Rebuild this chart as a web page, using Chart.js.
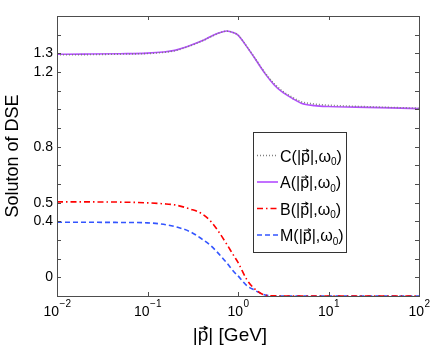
<!DOCTYPE html>
<html lang="en">
<head>
  <meta charset="UTF-8" />
  <title>Solution of DSE</title>
  <script src="https://cdn.jsdelivr.net/npm/chart.js"></script>
  <style>
    html, body { margin: 0; padding: 0; background: #ffffff; }
    #wrap { width: 436px; height: 352px; position: relative; }
  </style>
</head>
<body>
<div id="wrap"><canvas id="dseChart" width="436" height="352"></canvas></div>

<script>
  // momentum |p| in GeV
  const momentum = [0.01, 0.02, 0.05, 0.1, 0.15, 0.2, 0.3, 0.4, 0.5, 0.6, 0.75, 0.9, 1.0,
                    1.25, 1.5, 2, 2.5, 3, 4, 5, 7, 10, 20, 50, 100];

  const cValues = [1.292, 1.293, 1.296, 1.299, 1.305, 1.314, 1.341, 1.366, 1.389, 1.406, 1.419, 1.410, 1.398,
                   1.337, 1.282, 1.194, 1.138, 1.103, 1.064, 1.041, 1.028, 1.022, 1.016, 1.010, 1.006];
  const aValues = [1.295, 1.296, 1.298, 1.301, 1.307, 1.316, 1.343, 1.367, 1.390, 1.407, 1.420, 1.410, 1.398,
                   1.336, 1.280, 1.190, 1.132, 1.097, 1.058, 1.033, 1.020, 1.015, 1.012, 1.008, 1.004];
  const bValues = [0.504, 0.504, 0.503, 0.499, 0.494, 0.488, 0.465, 0.440, 0.400, 0.350, 0.278, 0.215, 0.180,
                   0.088, 0.042, 0.004, 0.001, 0, 0, 0, 0, 0, 0, 0, 0];
  const mValues = [0.395, 0.395, 0.394, 0.392, 0.384, 0.372, 0.343, 0.305, 0.270, 0.231, 0.178, 0.130, 0.108,
                   0.056, 0.033, 0.005, 0.001, 0, 0, 0, 0, 0, 0, 0, 0];

  const xTickValues = [0.01, 0.1, 1, 10, 100];
  const xTickExponents = ['−2', '−1', '0', '1', '2'];
  const yTickValues = [0.1, 0.2, 0.3, 0.4, 0.5, 0.6, 0.7, 0.8, 0.9, 1.0, 1.1, 1.2, 1.3, 1.4];
  const yTickLabels = ['0', '', '', '0.4', '0.5', '', '', '0.8', '', '', '', '1.2', '1.3', ''];

  // legend names: letter before "(|p|,ω0)"
  const seriesNames = ['C', 'A', 'B', 'M'];

  const FONT = '"Liberation Sans", Arial, Helvetica, sans-serif';
  const AXIS_COLOR = '#4d4d4d';

  function toPoints(ys) {
    return momentum.map((p, i) => ({ x: p, y: ys[i] }));
  }

  // small vector arrow over a glyph of width w starting at x
  function vecArrow(ctx, x, w, y, size) {
    const x0 = x + w * 0.15, x1 = x + w * 0.9;
    ctx.save();
    ctx.strokeStyle = '#000000';
    ctx.lineWidth = Math.max(1, size / 16);
    ctx.beginPath();
    ctx.moveTo(x0, y); ctx.lineTo(x1, y);
    ctx.moveTo(x1 - size * 0.18, y - size * 0.1); ctx.lineTo(x1, y); ctx.lineTo(x1 - size * 0.18, y + size * 0.1);
    ctx.stroke();
    ctx.restore();
  }

  // draws "prefix p suffix" with an arrow over the p, returns the x after it
  function textWithVec(ctx, prefix, suffix, x, y, size) {
    ctx.font = size + 'px ' + FONT;
    ctx.fillText(prefix, x, y);
    x += ctx.measureText(prefix).width;
    const pw = ctx.measureText('p').width;
    ctx.fillText('p', x, y);
    vecArrow(ctx, x, pw, y - size * 0.68, size);
    x += pw;
    ctx.fillText(suffix, x, y);
    return x + ctx.measureText(suffix).width;
  }

  const framePlugin = {
    id: 'frame',
    afterDraw(chart) {
      const ctx = chart.ctx;
      const a = chart.chartArea;
      const xs = chart.scales.x, ys = chart.scales.y;
      const tl = 4;
      ctx.save();

      // box + inward ticks
      ctx.strokeStyle = AXIS_COLOR;
      ctx.lineWidth = 1;
      ctx.strokeRect(Math.round(a.left) + 0.5, Math.round(a.top) + 0.5,
                     Math.round(a.right - a.left), Math.round(a.bottom - a.top));
      ctx.beginPath();
      xTickValues.forEach(v => {
        const px = Math.round(xs.getPixelForValue(v)) + 0.5;
        ctx.moveTo(px, a.bottom); ctx.lineTo(px, a.bottom - tl);
        ctx.moveTo(px, a.top); ctx.lineTo(px, a.top + tl);
      });
      yTickValues.forEach(v => {
        const py = Math.round(ys.getPixelForValue(v)) + 0.5;
        ctx.moveTo(a.left, py); ctx.lineTo(a.left + tl, py);
        ctx.moveTo(a.right, py); ctx.lineTo(a.right - tl, py);
      });
      ctx.stroke();

      // x tick labels as 10 with a raised exponent
      ctx.fillStyle = '#000000';
      ctx.textBaseline = 'alphabetic';
      xTickValues.forEach((v, i) => {
        const px = xs.getPixelForValue(v);
        ctx.font = '14px ' + FONT;
        const wb = ctx.measureText('10').width;
        ctx.font = '10px ' + FONT;
        const we = ctx.measureText(xTickExponents[i]).width;
        const x0 = px - (wb + we) / 2;
        ctx.font = '14px ' + FONT;
        ctx.fillText('10', x0, 316);
        ctx.font = '10px ' + FONT;
        ctx.fillText(xTickExponents[i], x0 + wb + 0.5, 307);
      });

      // x axis title
      ctx.font = '19px ' + FONT;
      const titleW = ctx.measureText('|p| [GeV]').width;
      textWithVec(ctx, '|', '| [GeV]', 230 - titleW / 2, 341, 19);

      // legend
      const bx = 253.5, by = 132.5, bw = 93, bh = 120;
      ctx.fillStyle = '#ffffff';
      ctx.fillRect(bx, by, bw, bh);
      ctx.strokeStyle = '#333333';
      ctx.lineWidth = 1;
      ctx.strokeRect(bx, by, bw, bh);
      chart.data.datasets.forEach((ds, i) => {
        const ly = by + 23 + i * 26.5;
        ctx.strokeStyle = ds.borderColor;
        ctx.lineWidth = ds.borderWidth;
        ctx.setLineDash(ds.borderDash || []);
        ctx.beginPath();
        ctx.moveTo(bx + 3.5, ly);
        ctx.lineTo(bx + 24.5, ly);
        ctx.stroke();
        ctx.setLineDash([]);
        ctx.fillStyle = '#000000';
        let tx = textWithVec(ctx, ds.label + '(|', '|,ω', bx + 26.5, ly + 6, 16);
        ctx.font = '10px ' + FONT;
        ctx.fillText('0', tx, ly + 9.5);
        tx += ctx.measureText('0').width;
        ctx.font = '16px ' + FONT;
        ctx.fillText(')', tx, ly + 6);
      });
      ctx.restore();
    }
  };

  const baseStyle = {
    pointRadius: 0,
    borderWidth: 1.6,
    fill: false,
    cubicInterpolationMode: 'monotone'
  };

  new Chart(document.getElementById('dseChart'), {
    type: 'line',
    data: {
      datasets: [
        Object.assign({ label: seriesNames[0], data: toPoints(cValues), borderColor: '#808080', borderDash: [1, 2] }, baseStyle),
        Object.assign({ label: seriesNames[1], data: toPoints(aValues), borderColor: '#b34dff' }, baseStyle),
        Object.assign({ label: seriesNames[2], data: toPoints(bValues), borderColor: '#ff0000', borderDash: [6, 3, 1.5, 3] }, baseStyle),
        Object.assign({ label: seriesNames[3], data: toPoints(mValues), borderColor: '#3355ff', borderDash: [5, 3] }, baseStyle)
      ]
    },
    options: {
      responsive: false,
      animation: false,
      events: [],
      layout: { padding: { top: 16, right: 17, left: 0, bottom: 0 } },
      plugins: {
        legend: { display: false },
        tooltip: { enabled: false }
      },
      scales: {
        x: {
          type: 'logarithmic',
          min: 0.01,
          max: 100,
          afterBuildTicks: s => { s.ticks = xTickValues.map(v => ({ value: v })); },
          afterFit: s => { s.height = 56; },
          grid: { display: false, drawTicks: false },
          border: { display: false },
          ticks: { display: false }
        },
        y: {
          type: 'linear',
          min: 0,
          max: 1.5,
          afterBuildTicks: s => { s.ticks = yTickValues.map(v => ({ value: v })); },
          afterFit: s => { s.width = 57; },
          grid: { display: false, drawTicks: false },
          border: { display: false },
          ticks: {
            autoSkip: false,
            padding: 4,
            color: '#000000',
            font: { family: FONT, size: 14 },
            callback: (v, i) => yTickLabels[i]
          },
          title: {
            display: true,
            text: 'Soluton of DSE',
            color: '#000000',
            font: { family: FONT, size: 18 },
            padding: { top: 2, bottom: 0 }
          }
        }
      }
    },
    plugins: [framePlugin]
  });
</script>
</body>
</html>
